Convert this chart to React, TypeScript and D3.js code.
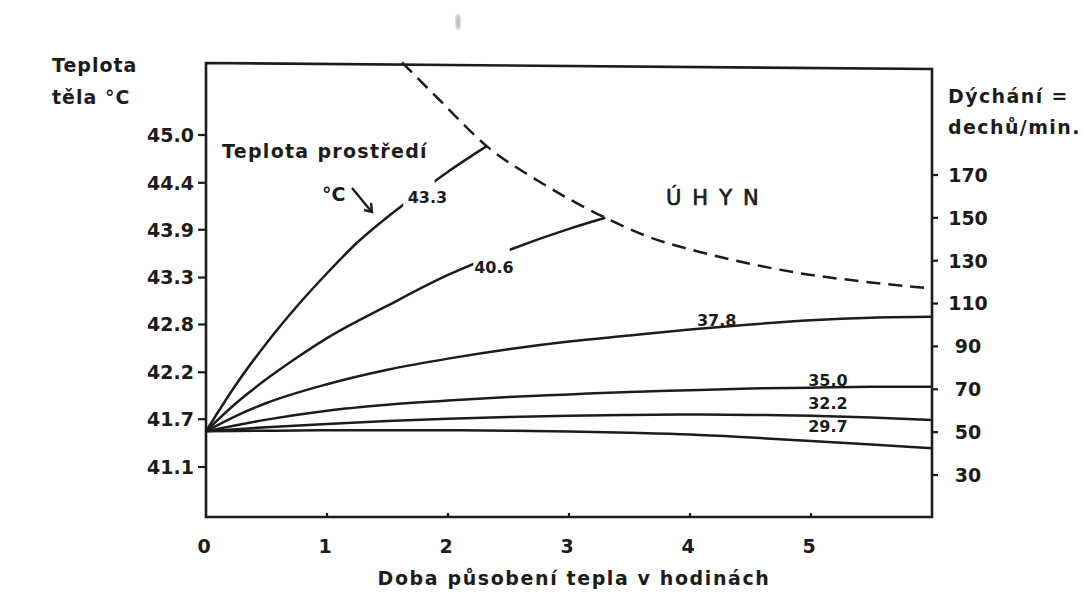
import React from 'react';
import * as d3 from 'd3';

const W = 1083;
const H = 599;

// Time axis (hours of heat exposure)
const hourTicks = [0, 1, 2, 3, 4, 5];
const flatHours = [0, 0.5, 1, 1.5, 2, 2.5, 3, 3.5, 4, 4.5, 5, 5.5, 6];

// Body temperature axis, °C (113 … 106 °F)
const bodyTempTicks = [45.0, 44.44, 43.89, 43.33, 42.78, 42.22, 41.67, 41.11];
// Respiration axis, breaths per minute
const breathTicks = [170, 150, 130, 110, 90, 70, 50, 30];

// Body temperature over time for each ambient temperature
const hours433 = [0, 0.25, 0.5, 0.75, 1, 1.25, 1.5, 1.75, 2, 2.32];
const temp433 = [41.53, 42.08, 42.56, 42.99, 43.38, 43.74, 44.04, 44.31, 44.57, 44.87];
const hours406 = [0, 0.25, 0.5, 0.75, 1, 1.5, 2, 2.5, 3, 3.3];
const temp406 = [41.53, 41.86, 42.14, 42.39, 42.62, 43.0, 43.36, 43.65, 43.9, 44.03];
const hours378 = [0, 0.25, 0.5, 1, 1.5, 2, 2.5, 3, 3.5, 4, 4.5, 5, 5.5, 6];
const temp378 = [41.53, 41.71, 41.86, 42.08, 42.25, 42.38, 42.49, 42.58, 42.65, 42.72, 42.78, 42.83, 42.86, 42.87];
const hours350 = [0, 0.25, 0.5, 1, 1.5, 2, 2.5, 3, 3.5, 4, 4.5, 5, 5.5, 6];
const temp350 = [41.53, 41.6, 41.665, 41.77, 41.84, 41.89, 41.93, 41.96, 41.99, 42.01, 42.03, 42.04, 42.05, 42.05];
const temp322 = [41.53, 41.575, 41.615, 41.65, 41.675, 41.695, 41.71, 41.72, 41.725, 41.72, 41.71, 41.69, 41.66];
const temp297 = [41.53, 41.535, 41.54, 41.54, 41.54, 41.535, 41.525, 41.51, 41.49, 41.455, 41.415, 41.375, 41.33];

// Lethal boundary (ÚHYN)
const deathHours = [1.62, 1.93, 2.32, 2.76, 3.3, 3.67, 4.08, 4.5, 4.91, 5.45, 6.0];
const deathTemps = [45.85, 45.41, 44.87, 44.45, 44.03, 43.8, 43.63, 43.49, 43.38, 43.28, 43.2];

// Ambient temperature labels (°C)
const ambientLabels = ['43.3', '40.6', '37.8', '35.0', '32.2', '29.7'];

const series = [
  { label: ambientLabels[0], hours: hours433, temps: temp433, gap: [1.63, 1.89], at: [1.83, 44.27] },
  { label: ambientLabels[1], hours: hours406, temps: temp406, gap: [2.21, 2.51], at: [2.38, 43.45] },
  { label: ambientLabels[2], hours: hours378, temps: temp378, gap: null, at: [4.22, 42.83] },
  { label: ambientLabels[3], hours: hours350, temps: temp350, gap: null, at: [5.14, 42.13] },
  { label: ambientLabels[4], hours: flatHours, temps: temp322, gap: null, at: [5.14, 41.86] },
  { label: ambientLabels[5], hours: flatHours, temps: temp297, gap: null, at: [5.14, 41.59] },
];

const INK = '#1c1c1c';
const FONT = "'DejaVu Sans', sans-serif";

export default function App() {
  const left = 206;
  const right = 932;
  const top = 63;
  const bottom = 517;

  const x = d3.scaleLinear().domain([0, 6]).range([left, right]);
  const y = d3.scaleLinear().domain([41.11, 45.0]).range([467, 135]);
  const yBreath = d3.scaleLinear().domain([30, 170]).range([475, 175]);

  const line = d3
    .line<[number, number]>()
    .x((d) => x(d[0]))
    .y((d) => y(d[1]))
    .curve(d3.curveMonotoneX);

  const fmt = d3.format('.1f');
  const deathPts = deathHours.map((h, i) => [h, deathTemps[i]] as [number, number]);

  return (
    <svg
      width={W}
      height={H}
      viewBox={`0 0 ${W} ${H}`}
      style={{ position: 'absolute', left: 0, top: 0, background: '#fff' }}
    >
      <defs>
        <clipPath id="plot-area">
          <rect x={left} y={top - 2} width={right - left} height={bottom - top + 2} />
        </clipPath>
        {series.map((s, i) =>
          s.gap ? (
            <mask id={`gap-${i}`} key={i} maskUnits="userSpaceOnUse" x={0} y={0} width={W} height={H}>
              <rect x={0} y={0} width={W} height={H} fill="#fff" />
              <rect x={x(s.gap[0])} y={0} width={x(s.gap[1]) - x(s.gap[0])} height={H} fill="#000" />
            </mask>
          ) : null
        )}
        <filter id="soft">
          <feGaussianBlur stdDeviation="0.8" />
        </filter>
      </defs>

      <rect x={0} y={0} width={W} height={H} fill="#fff" />

      {/* faint speck above the frame */}
      <ellipse cx={458} cy={22} rx={2.5} ry={8} fill="#bdbdbd" filter="url(#soft)" />

      {/* frame */}
      <path
        d={`M${left},${top} L${right},${top + 6} L${right},${bottom} L${left},${bottom} Z`}
        fill="none"
        stroke={INK}
        strokeWidth={2.6}
      />

      {/* left axis ticks and labels */}
      {bodyTempTicks.map((t) => (
        <g key={t}>
          <line x1={left - 8} x2={left} y1={y(t)} y2={y(t)} stroke={INK} strokeWidth={2.2} />
          <text
            x={left - 12}
            y={y(t)}
            dy="0.36em"
            textAnchor="end"
            fontFamily={FONT}
            fontWeight="bold"
            fontSize={19}
            fill={INK}
          >
            {fmt(t)}
          </text>
        </g>
      ))}

      {/* right axis ticks and labels */}
      {breathTicks.map((b) => (
        <g key={b}>
          <line x1={right} x2={right + 6} y1={yBreath(b)} y2={yBreath(b)} stroke={INK} strokeWidth={2.2} />
          <text
            x={968}
            y={yBreath(b)}
            dy="0.36em"
            textAnchor="middle"
            fontFamily={FONT}
            fontWeight="bold"
            fontSize={19}
            fill={INK}
          >
            {b}
          </text>
        </g>
      ))}

      {/* bottom axis ticks and labels */}
      {hourTicks.map((h) => (
        <g key={h}>
          {h > 0 && <line x1={x(h)} x2={x(h)} y1={bottom} y2={bottom - 4} stroke={INK} strokeWidth={2.2} />}
          <text
            x={x(h) - 2}
            y={553}
            textAnchor="middle"
            fontFamily={FONT}
            fontWeight="bold"
            fontSize={19}
            fill={INK}
          >
            {h}
          </text>
        </g>
      ))}

      {/* axis titles */}
      <text fontFamily={FONT} fontWeight="bold" fontSize={19} letterSpacing={1} fill={INK}>
        <tspan x={52} y={72}>Teplota</tspan>
        <tspan x={52} y={104}>těla °C</tspan>
      </text>
      <text fontFamily={FONT} fontWeight="bold" fontSize={19} letterSpacing={1.4} fill={INK}>
        <tspan x={948} y={103}>Dýchání =</tspan>
        <tspan x={948} y={134}>dechů/min.</tspan>
      </text>
      <text
        x={574}
        y={585}
        textAnchor="middle"
        fontFamily={FONT}
        fontWeight="bold"
        fontSize={19}
        letterSpacing={1.6}
        fill={INK}
      >
        Doba působení tepla v hodinách
      </text>

      {/* curves */}
      <g clipPath="url(#plot-area)">
        {series.map((s, i) => (
          <path
            key={s.label}
            d={line(s.hours.map((h, j) => [h, s.temps[j]] as [number, number])) || ''}
            fill="none"
            stroke={INK}
            strokeWidth={2.5}
            strokeLinejoin="round"
            mask={s.gap ? `url(#gap-${i})` : undefined}
          />
        ))}
        <path
          d={line(deathPts) || ''}
          fill="none"
          stroke={INK}
          strokeWidth={2.5}
          strokeDasharray="14 8"
        />
      </g>

      {/* curve labels */}
      {series.map((s) => (
        <text
          key={s.label}
          x={x(s.at[0])}
          y={y(s.at[1])}
          dy="0.36em"
          textAnchor="middle"
          fontFamily={FONT}
          fontWeight="bold"
          fontSize={16}
          fill={INK}
        >
          {s.label}
        </text>
      ))}

      {/* in-plot annotations */}
      <text x={222} y={158} fontFamily={FONT} fontWeight="bold" fontSize={19} letterSpacing={1.3} fill={INK}>
        Teplota prostředí
      </text>
      <text x={322} y={201} fontFamily={FONT} fontWeight="bold" fontSize={19} fill={INK}>
        °C
      </text>
      <path d="M352,188 L371,211" stroke={INK} strokeWidth={2.4} fill="none" />
      <path d="M364,210 L372,212 L371,203" stroke={INK} strokeWidth={2.4} fill="none" strokeLinejoin="miter" />
      <text
        x={666}
        y={205}
        fontFamily={FONT}
        fontSize={21}
        letterSpacing={11}
        fill={INK}
        stroke={INK}
        strokeWidth={0.7}
      >
        ÚHYN
      </text>
    </svg>
  );
}
